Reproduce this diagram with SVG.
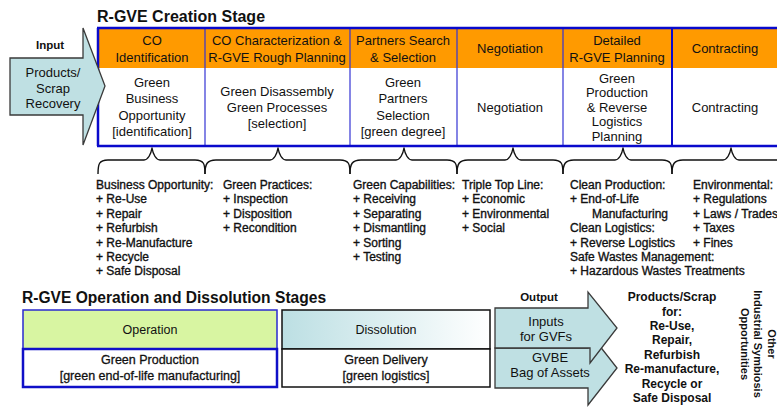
<svg xmlns="http://www.w3.org/2000/svg" width="777" height="407" viewBox="0 0 777 407">
<defs>
<linearGradient id="dissGrad" x1="0" y1="0" x2="1" y2="0">
<stop offset="0" stop-color="#bcdfe3"/>
<stop offset="1" stop-color="#ffffff"/>
</linearGradient>
</defs>
<style>
text{font-family:"Liberation Sans",Arial,sans-serif;fill:#111}
.title{font-size:16px;font-weight:bold}
.c{font-size:13px;text-anchor:middle}
.l{font-size:12px;stroke:#111;stroke-width:0.35}
.lc{font-size:12.5px;text-anchor:middle;stroke:#111;stroke-width:0.3}
.bd{font-size:11.5px;font-weight:bold;text-anchor:middle}
.rb{font-size:12px;font-weight:bold;text-anchor:middle}
.sep{stroke:#3434d4;stroke-width:1.2;fill:none}
.edge{stroke:#0a0acc;stroke-width:2.5;fill:none}
.brace{fill:none;stroke:#111;stroke-width:1.4;stroke-linejoin:round}
.arrow{fill:#bfe0e3;stroke:#3a3a3a;stroke-width:1.3}
</style>

<rect width="777" height="407" fill="#ffffff"/>

<text class="title" x="97" y="22">R-GVE Creation Stage</text>

<!-- creation stage table -->
<g id="creation-table">
<rect x="98" y="29" width="679" height="39" fill="#ff9a00"/>
<rect x="98" y="68" width="679" height="78" fill="#ffffff"/>
<path class="sep" d="M205,28V146M350,28V146M457,28V146M563,28V146"/>
<path class="edge" d="M672,28V146" style="stroke-width:2"/>
<path class="edge" d="M97,28H777M97,146H777M98,28V146"/>
</g>

<g id="co-identification">
<text class="c" x="152" y="45">CO</text>
<text class="c" x="152" y="62">Identification</text>
<text class="c" x="152" y="87">Green</text>
<text class="c" x="152" y="103">Business</text>
<text class="c" x="152" y="119.5">Opportunity</text>
<text class="c" x="152" y="136">[identification]</text>
</g>
<g id="co-characterization">
<text class="c" x="277" y="45">CO Characterization &amp;</text>
<text class="c" x="277" y="62">R-GVE Rough Planning</text>
<text class="c" x="277" y="95.5">Green Disassembly</text>
<text class="c" x="277" y="112">Green Processes</text>
<text class="c" x="277" y="128">[selection]</text>
</g>
<g id="partners-search">
<text class="c" x="403" y="45">Partners Search</text>
<text class="c" x="403" y="62">&amp; Selection</text>
<text class="c" x="403" y="87">Green</text>
<text class="c" x="403" y="103">Partners</text>
<text class="c" x="403" y="119.5">Selection</text>
<text class="c" x="403" y="136">[green degree]</text>
</g>
<g id="negotiation">
<text class="c" x="510" y="53">Negotiation</text>
<text class="c" x="510" y="112">Negotiation</text>
</g>
<g id="detailed-planning">
<text class="c" x="617" y="45">Detailed</text>
<text class="c" x="617" y="62">R-GVE Planning</text>
<text class="c" x="617" y="82.5">Green</text>
<text class="c" x="617" y="97">Production</text>
<text class="c" x="617" y="111.5">&amp; Reverse</text>
<text class="c" x="617" y="126">Logistics</text>
<text class="c" x="617" y="140.5">Planning</text>
</g>
<g id="contracting">
<text class="c" x="725" y="53">Contracting</text>
<text class="c" x="725" y="112">Contracting</text>
</g>

<g id="input-arrow">
<polygon class="arrow" points="10,58 83,58 83,28 105,86 83,145 83,115 10,115"/>
<text class="bd" x="50" y="49">Input</text>
<text class="c" x="53" y="77">Products/</text>
<text class="c" x="53" y="93">Scrap</text>
<text class="c" x="53" y="108">Recovery</text>
</g>

<g id="connectors">
<path class="brace" d="M98,174C98,164 99,160 108,160H144C148,160 151,154 152,148C153,154 156,160 160,160H195C204,160 205,164 205,174"/>
<path class="brace" d="M205,174C205,164 207,160 216,160H270C274,160 277,154 278,148C279,154 282,160 286,160H340C349,160 350,164 350,174"/>
<path class="brace" d="M350,174C350,164 352,160 361,160H396C400,160 403,154 404,148C405,154 408,160 412,160H447C456,160 457,164 457,174"/>
<path class="brace" d="M457,174C457,164 459,160 468,160H505C509,160 512,154 513,148C514,154 517,160 521,160H553C562,160 563,164 563,174"/>
<path class="brace" d="M563,174C563,164 565,160 574,160H615C619,160 622,154 623,148C624,154 627,160 631,160H662C671,160 672,164 672,174"/>
<path class="brace" d="M672,174C672,164 674,160 683,160H723C727,160 730,154 731,148C732,154 735,160 739,160H790"/>
</g>

<g id="list-business">
<text class="l" x="96" y="189">Business Opportunity:</text>
<text class="l" x="96" y="203.4">+ Re-Use</text>
<text class="l" x="96" y="217.8">+ Repair</text>
<text class="l" x="96" y="232.2">+ Refurbish</text>
<text class="l" x="96" y="246.6">+ Re-Manufacture</text>
<text class="l" x="96" y="261">+ Recycle</text>
<text class="l" x="96" y="275.4">+ Safe Disposal</text>
</g>
<g id="list-practices">
<text class="l" x="223" y="189">Green Practices:</text>
<text class="l" x="223" y="203.4">+ Inspection</text>
<text class="l" x="223" y="217.8">+ Disposition</text>
<text class="l" x="223" y="232.2">+ Recondition</text>
</g>
<g id="list-capabilities">
<text class="l" x="353" y="189">Green Capabilities:</text>
<text class="l" x="353" y="203.4">+ Receiving</text>
<text class="l" x="353" y="217.8">+ Separating</text>
<text class="l" x="353" y="232.2">+ Dismantling</text>
<text class="l" x="353" y="246.6">+ Sorting</text>
<text class="l" x="353" y="261">+ Testing</text>
</g>
<g id="list-triple">
<text class="l" x="462" y="189">Triple Top Line:</text>
<text class="l" x="462" y="203.4">+ Economic</text>
<text class="l" x="462" y="217.8">+ Environmental</text>
<text class="l" x="462" y="232.2">+ Social</text>
</g>
<g id="list-clean">
<text class="l" x="570" y="189">Clean Production:</text>
<text class="l" x="570" y="203.4">+ End-of-Life</text>
<text class="l" x="592" y="217.8">Manufacturing</text>
<text class="l" x="570" y="232.2">Clean Logistics:</text>
<text class="l" x="570" y="246.6">+ Reverse Logistics</text>
<text class="l" x="570" y="261">Safe Wastes Management:</text>
<text class="l" x="570" y="275.4">+ Hazardous Wastes Treatments</text>
</g>
<g id="list-environmental">
<text class="l" x="693" y="189">Environmental:</text>
<text class="l" x="693" y="203.4">+ Regulations</text>
<text class="l" x="693" y="217.8">+ Laws / Trades</text>
<text class="l" x="693" y="232.2">+ Taxes</text>
<text class="l" x="693" y="246.6">+ Fines</text>
</g>

<text class="title" x="22" y="303" style="font-size:15.6px">R-GVE Operation and Dissolution Stages</text>

<g id="operation">
<rect x="23" y="310" width="254" height="39" fill="#d8f5a2" stroke="#2a2ad0" stroke-width="1.5"/>
<rect x="23" y="349" width="254" height="38" fill="#ffffff" stroke="#1010c8" stroke-width="2.5"/>
<text class="c" x="150" y="334" style="font-size:12.5px">Operation</text>
<text class="lc" x="150" y="364">Green Production</text>
<text class="lc" x="150" y="380">[green end-of-life manufacturing]</text>
</g>
<g id="dissolution">
<rect x="282" y="310" width="208" height="39" fill="url(#dissGrad)" stroke="#111" stroke-width="1.5"/>
<rect x="282" y="349" width="208" height="38" fill="#ffffff" stroke="#111" stroke-width="1.5"/>
<text class="c" x="386" y="334" style="font-size:12.5px">Dissolution</text>
<text class="lc" x="386" y="364">Green Delivery</text>
<text class="lc" x="386" y="380">[green logistics]</text>
</g>

<g id="output-arrows">
<polygon class="arrow" points="495,348 588,348 588,331 617,368 588,405 588,388 495,388"/>
<polygon class="arrow" points="495,308 588,308 588,292 617,328 590,363 590,348 495,348"/>
<text class="bd" x="539" y="301">Output</text>
<text class="c" x="546" y="326">Inputs</text>
<text class="c" x="546" y="341">for GVFs</text>
<text class="c" x="550" y="362">GVBE</text>
<text class="c" x="550" y="377">Bag of Assets</text>
</g>

<g id="products-scrap">
<text class="rb" x="672" y="301">Products/Scrap</text>
<text class="rb" x="672" y="316">for:</text>
<text class="rb" x="672" y="330">Re-Use,</text>
<text class="rb" x="672" y="344">Repair,</text>
<text class="rb" x="672" y="359">Refurbish</text>
<text class="rb" x="672" y="373">Re-manufacture,</text>
<text class="rb" x="672" y="388">Recycle or</text>
<text class="rb" x="672" y="402">Safe Disposal</text>
</g>

<g id="other-opportunities">
<text class="rb" style="font-size:11px" transform="translate(768,344) rotate(90)">Other</text>
<text class="rb" style="font-size:11px" transform="translate(754,344) rotate(90)">Industrial Symbiosis</text>
<text class="rb" style="font-size:11px" transform="translate(741,344) rotate(90)">Opportunities</text>
</g>
</svg>
